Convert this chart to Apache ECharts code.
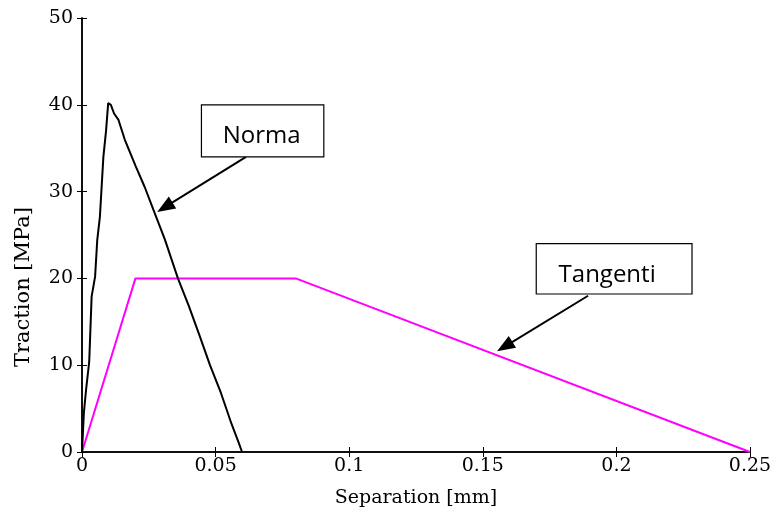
<!DOCTYPE html>
<html>
<head>
<meta charset="utf-8">
<script src="https://cdn.jsdelivr.net/npm/echarts@6/dist/echarts.min.js"></script>
<style>
html,body{margin:0;padding:0;background:#fff;}
#chart{width:775px;height:513px;}
</style>
</head>
<body>
<div id="chart"></div>
<script>
// Normal traction-separation response (measured, slightly noisy)
const normalSep = [0, 0.0007, 0.0015, 0.0027, 0.0036, 0.0049, 0.0057, 0.0067, 0.008, 0.009, 0.0098, 0.0108,
  0.012, 0.0136, 0.016, 0.02, 0.0235, 0.0266, 0.031, 0.0359, 0.04, 0.044, 0.0479, 0.052, 0.056, 0.0585, 0.0599];
const normalTrac = [0, 4.5, 7.1, 10.4, 17.9, 20.2, 24.4, 27.1, 34, 37, 40.2, 40,
  39, 38.3, 36, 33, 30.5, 28, 24.5, 20, 16.8, 13.4, 10, 6.8, 3.2, 1.2, 0];

// Tangential traction-separation law (trapezoidal)
const tangSep = [0, 0.02, 0.08, 0.25];
const tangTrac = [0, 20, 20, 0];

// Annotation callouts: box corners and arrow (tail -> head centre), in data units
const normaBox = {x0: 0.0447, y0: 40.0, x1: 0.0905, y1: 34.0, text: 'Norma', dx: -1, clip: null};
const normaArrow = [[0.0614, 34.0], [0.0310, 28.2]];
const tangBox = {x0: 0.170, y0: 24.0, x1: 0.2283, y1: 18.2, text: 'Tangenti', dx: -7, clip: [58, 86]};
const tangArrow = [[0.1894, 18.0], [0.1582, 12.15]];

const serif = '"DejaVu Serif", serif';
const sans = '"Open Sans", "Noto Sans", sans-serif';

const chart = echarts.init(document.getElementById('chart'), null, {renderer: 'canvas'});

function pairs(xs, ys) { return xs.map((x, i) => [x, ys[i]]); }

const tickLabel = {color: '#000', fontFamily: serif, fontSize: 19};
const axisLine = {show: true, lineStyle: {color: '#000', width: 1.5}};
const axisTick = {show: true, inside: true, length: 5, lineStyle: {color: '#000', width: 1}};

chart.setOption({
  animation: false,
  grid: {left: 82, right: 25, top: 18, bottom: 60, containLabel: false},
  xAxis: [{
    type: 'value', min: 0, max: 0.25, interval: 0.05,
    axisLine: axisLine, axisTick: axisTick, splitLine: {show: false},
    axisLabel: Object.assign({margin: 5, formatter: v => String(+v.toFixed(2))}, tickLabel),
    name: 'Separation [mm]', nameLocation: 'middle', nameGap: 37,
    nameTextStyle: {color: '#000', fontFamily: serif, fontSize: 19}
  }, {
    type: 'value', position: 'top', min: 0, max: 0.25, interval: 0.05,
    axisLine: axisLine, axisTick: axisTick, splitLine: {show: false}, axisLabel: {show: false}
  }],
  yAxis: [{
    type: 'value', min: 0, max: 50, interval: 10,
    axisLine: axisLine, axisTick: axisTick, splitLine: {show: false},
    axisLabel: Object.assign({margin: 9}, tickLabel)
  }, {
    type: 'value', position: 'right', min: 0, max: 50, interval: 10,
    axisLine: axisLine, axisTick: axisTick, splitLine: {show: false}, axisLabel: {show: false}
  }],
  series: [{
    name: 'Normal', type: 'line', data: pairs(normalSep, normalTrac),
    showSymbol: false, symbol: 'none',
    lineStyle: {color: '#000', width: 2}, z: 3
  }, {
    name: 'Tangential', type: 'line', data: pairs(tangSep, tangTrac),
    showSymbol: false, symbol: 'none',
    lineStyle: {color: '#ff00ff', width: 2}, z: 2,
    markLine: {
      silent: true, symbol: ['none', 'triangle'], symbolSize: [14, 18],
      label: {show: false},
      lineStyle: {color: '#000', width: 2, type: 'solid'},
      itemStyle: {color: '#000'},
      data: [
        [{coord: normaArrow[0]}, {coord: normaArrow[1]}],
        [{coord: tangArrow[0]}, {coord: tangArrow[1]}]
      ]
    }
  }]
});

// Text boxes placed from data coordinates; the text sits low so that
// descenders are cut off by the bottom edge of the box
function boxGraphic(b) {
  const p0 = chart.convertToPixel({gridIndex: 0}, [b.x0, b.y0]);
  const p1 = chart.convertToPixel({gridIndex: 0}, [b.x1, b.y1]);
  const w = p1[0] - p0[0], h = p1[1] - p0[1];
  const children = [
    {type: 'rect', shape: {x: 0, y: 0, width: w, height: h},
     style: {fill: '#fff', stroke: '#000', lineWidth: 1.2}, z: 100},
    {type: 'text', x: w / 2 + b.dx, y: 31,
     style: {text: b.text, fill: '#000', font: '24px ' + sans, textAlign: 'center', textVerticalAlign: 'middle'}, z: 101}
  ];
  if (b.clip) {
    children.push({type: 'rect', shape: {x: b.clip[0], y: h + 1, width: b.clip[1] - b.clip[0], height: 10},
      style: {fill: '#fff', stroke: null}, z: 102});
  }
  return {type: 'group', x: p0[0], y: p0[1], z: 100, children: children};
}

// Vertical axis title, set a little below the middle of the axis
const yTitle = {
  type: 'text', x: 24, y: 287, rotation: Math.PI / 2, z: 100,
  style: {text: 'Traction [MPa]', fill: '#000', font: '21px ' + serif, textAlign: 'center', textVerticalAlign: 'middle'}
};

chart.setOption({graphic: [boxGraphic(normaBox), boxGraphic(tangBox), yTitle]});
</script>
</body>
</html>
